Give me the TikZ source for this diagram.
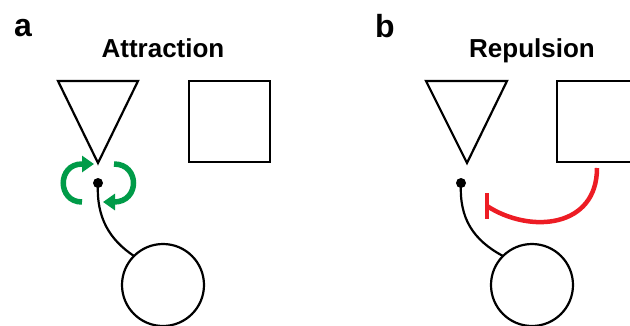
\documentclass[tikz,border=0pt]{standalone}
\usepackage{fontspec}
\setmainfont{Liberation Sans}
\usetikzlibrary{arrows.meta}
\definecolor{attgreen}{RGB}{0,155,72}
\definecolor{repred}{RGB}{237,28,36}
\tikzset{
  shapeline/.style={draw=black, line width=2.2pt},
  sqbox/.style={shapeline, minimum size=81pt, inner sep=0pt, outer sep=0pt},
  cellbody/.style={shapeline, circle, minimum size=82pt, inner sep=0pt, outer sep=0pt},
  tipdot/.style={circle, fill=black, minimum size=10pt, inner sep=0pt},
  axon/.style={draw=black, line width=2.2pt},
  greenarr/.style={draw=attgreen, line width=5.5pt, -{Triangle[length=12pt,width=16pt]}},
  redinh/.style={draw=repred, line width=4.5pt},
  paneltitle/.style={font=\bfseries\fontsize{26}{30}\selectfont, anchor=base, inner sep=0pt},
  panelletter/.style={font=\bfseries\fontsize{32}{36}\selectfont, anchor=base west, inner sep=0pt}
}
\begin{document}
\begin{tikzpicture}[x=1pt,y=-1pt]
\useasboundingbox (0,0) rectangle (630,325);
\clip (0,0) rectangle (630,325);
% panel a
\node[panelletter] (la) at (14,36) {a};
\node[paneltitle] (ta) at (163,57) {Attraction};
\draw[shapeline, line join=miter] (58,81) -- (138,81) -- (98,163) -- cycle;
\node[sqbox] (sqa) at (229.5,121.5) {};
\node[tipdot] (da) at (98,183) {};
\node[cellbody] (ca) at (163,285) {};
\draw[axon] (da.center) .. controls (96,218) and (110,240) .. (ca.135);
\coordinate (ga1) at (82,202);
\coordinate (ga2) at (94,164);
\coordinate (gb1) at (114,164);
\coordinate (gb2) at (103,202);
\draw[greenarr] (ga1) .. controls (57,202) and (57,164) .. (82,164) -- (ga2);
\draw[greenarr] (gb1) .. controls (140,164) and (140,202) .. (114,202) -- (gb2);
% panel b
\node[panelletter] (lb) at (375,37) {b};
\node[paneltitle] (tb) at (532,57) {Repulsion};
\draw[shapeline, line join=miter] (426,81) -- (507,81) -- (467,163) -- cycle;
\node[sqbox] (sqb) at (597.5,121.5) {};
\node[tipdot] (db) at (461,183) {};
\node[cellbody] (cb) at (532,285) {};
\draw[axon] (db.center) .. controls (459,218) and (473,240) .. (cb.135);
\coordinate (rs) at (597,168);
\coordinate (re) at (487,206);
\draw[redinh] (rs) .. controls (597,228) and (530,234) .. (re);
\draw[redinh] (487,193) -- (487,219);
\end{tikzpicture}
\end{document}
